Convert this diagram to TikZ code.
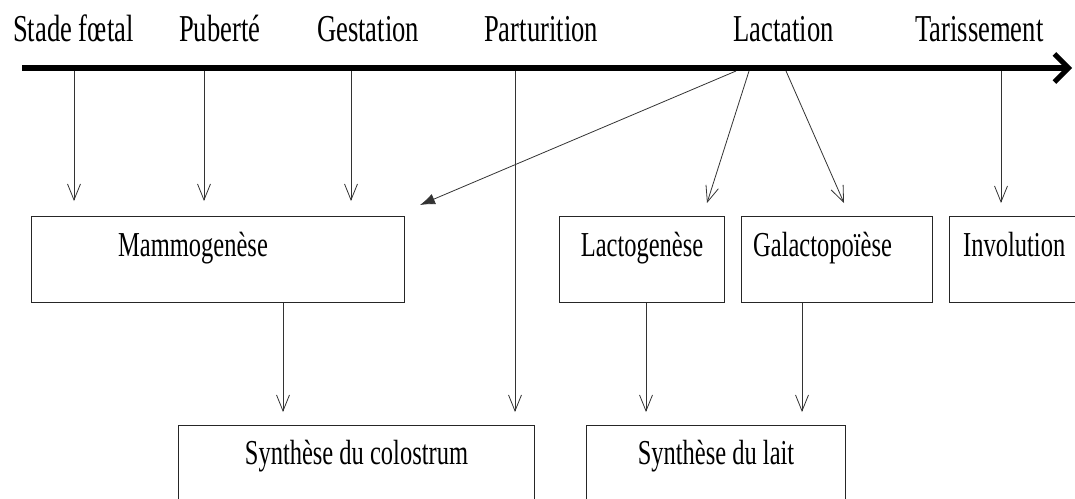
\documentclass[tikz,border=0pt]{standalone}
\usepackage{fontspec}
\newfontfamily\condserif[FakeStretch=0.7]{Liberation Serif}
\usetikzlibrary{arrows.meta}
\tikzset{
  big/.style={font=\condserif\fontsize{38}{40}\selectfont, inner sep=0pt, anchor=base west},
  lbl/.style={font=\condserif\fontsize{35}{37}\selectfont, inner sep=0pt},
  boxnode/.style={draw=black!85, line width=1pt, anchor=north west, inner sep=0pt},
  thin/.style={draw=black!80, line width=0.8pt},
  down/.style={thin, -{Straight Barb[length=16pt,width=13pt]}},
  timeline/.style={line width=6pt, -{Straight Barb[length=14pt,width=28pt,line width=5pt]}}
}
\begin{document}
\begin{tikzpicture}[x=1pt,y=-1pt]
\useasboundingbox (0,0) rectangle (1075,498);
\clip (0,0) rectangle (1075,498);
% timeline
\coordinate (t0) at (22,68);
\coordinate (t1) at (1072,68);
\draw[timeline] (t0) -- (t1);
% labels
\node[big] (sf) at (13,41) {Stade fœtal};
\node[big] (pu) at (179,41) {Puberté};
\node[big] (ge) at (317,41) {Gestation};
\node[big] (pa) at (484,41) {Parturition};
\node[big] (la) at (733,41) {Lactation};
\node[big] (ta) at (915,41) {Tarissement};
% points on the bar
\coordinate (b1) at (74,71);
\coordinate (b2) at (204,71);
\coordinate (b3) at (351,71);
\coordinate (b4) at (515,71);
\coordinate (l0) at (736,71);
\coordinate (l1) at (749,71);
\coordinate (l2) at (786,71);
\coordinate (b6) at (1001,71);
% boxes
\node[boxnode, minimum width=373pt, minimum height=86pt] (mam) at (31,216) {};
\node[boxnode, minimum width=165pt, minimum height=86pt] (lacg) at (559,216) {};
\node[boxnode, minimum width=191pt, minimum height=86pt] (gal) at (741,216) {};
\node[boxnode, minimum width=140pt, minimum height=86pt] (inv) at (949,216) {};
\node[boxnode, minimum width=356pt, minimum height=100pt] (colo) at (178,425) {};
\node[boxnode, minimum width=259pt, minimum height=100pt] (lait) at (586,425) {};
% box texts
\node[lbl, anchor=base west] (tmam) at (118,256) {Mammogenèse};
\node[lbl, anchor=base] (tlacg) at (lacg.north |- 0,256) {Lactogenèse};
\node[lbl, anchor=base west] (tgal) at (753,256) {Galactopoïèse};
\node[lbl, anchor=base west] (tinv) at (963,256) {Involution};
\node[lbl, anchor=base] (tcolo) at (colo.north |- 0,464) {Synthèse du colostrum};
\node[lbl, anchor=base] (tlait) at (lait.north |- 0,464) {Synthèse du lait};
% arrows from bar
\draw[down, shorten >=15pt] (b1) -- (b1 |- mam.north);
\draw[down, shorten >=15pt] (b2) -- (b2 |- mam.north);
\draw[down, shorten >=15pt] (b3) -- (b3 |- mam.north);
\draw[down, shorten >=13pt] (b4) -- (b4 |- colo.north);
\draw[down, shorten >=13pt] (b6) -- (b6 |- inv.north);
\coordinate (mt) at (420,205);
\coordinate (lt) at (707,203);
\coordinate (gt) at (844,203);
\draw[thin, -{Latex[length=15pt,width=11pt]}] (l0) -- (mt);
\draw[down] (l1) -- (lt);
\draw[down] (l2) -- (gt);
% arrows from boxes
\coordinate (m1) at (283,0);
\coordinate (g1) at (646,0);
\coordinate (g2) at (802,0);
\draw[down, shorten >=13pt] (mam.south -| m1) -- (colo.north -| m1);
\draw[down, shorten >=13pt] (lacg.south -| g1) -- (lait.north -| g1);
\draw[down, shorten >=13pt] (gal.south -| g2) -- (lait.north -| g2);
\end{tikzpicture}
\end{document}
